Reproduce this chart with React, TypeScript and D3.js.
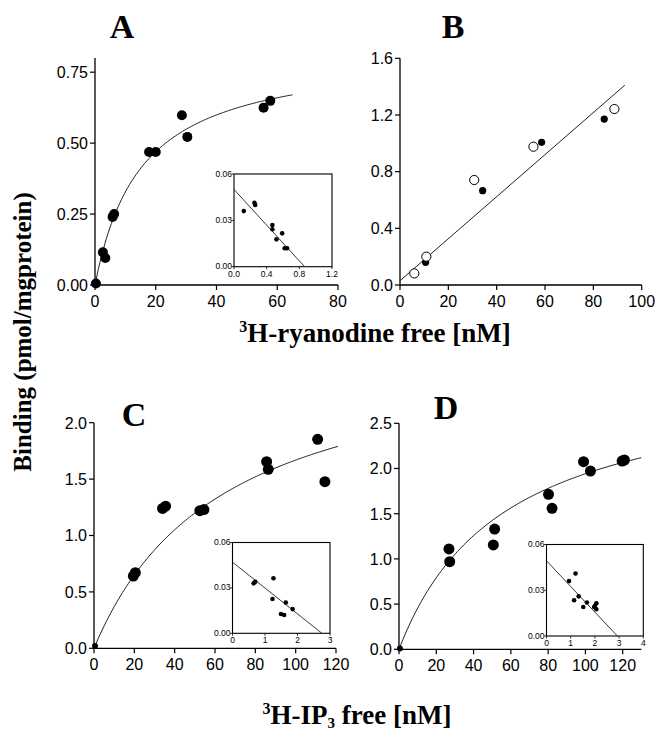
import React from "react";
import * as d3 from "d3";

// ---------- data ----------
// Panel A: 3H-ryanodine saturation (filled)
const A_X = [0.3, 2.6, 3.4, 5.8, 6.3, 17.8, 20.0, 28.6, 30.4, 55.5, 57.7];
const A_Y = [0.005, 0.115, 0.095, 0.24, 0.25, 0.469, 0.469, 0.598, 0.522, 0.625, 0.649];
const A_FIT_BMAX = 0.827;
const A_FIT_KD = 15.2;
const A_FIT_XMAX = 65;
const A_X_TICKS = [0, 20, 40, 60, 80];
const A_Y_TICKS = [0, 0.25, 0.5, 0.75];
const A_INSET_X = [0.12, 0.25, 0.26, 0.47, 0.47, 0.52, 0.59, 0.62, 0.65];
const A_INSET_Y = [0.036, 0.0414, 0.04, 0.027, 0.0242, 0.0177, 0.0216, 0.0119, 0.0119];
const A_INSET_LINE_X = [0, 0.865];
const A_INSET_LINE_Y = [0.05, 0];
const A_INSET_X_TICKS = [0, 0.4, 0.8, 1.2];

// Panel B: filled and open series + straight fit
const B_FILLED_X = [10.6, 34.2, 58.6, 84.5];
const B_FILLED_Y = [0.16, 0.666, 1.007, 1.171];
const B_OPEN_X = [5.9, 10.9, 30.7, 55.2, 88.7];
const B_OPEN_Y = [0.082, 0.2, 0.741, 0.976, 1.242];
const B_LINE_X = [0, 93];
const B_LINE_Y = [0.03, 1.41];
const B_X_TICKS = [0, 20, 40, 60, 80, 100];
const B_Y_TICKS = [0, 0.4, 0.8, 1.2, 1.6];

// Panel C: 3H-IP3
const C_X = [0.5, 19.5, 20.5, 34.0, 35.5, 52.5, 54.5, 85.6, 86.4, 110.9, 114.5];
const C_Y = [0.02, 0.64, 0.67, 1.24, 1.26, 1.22, 1.23, 1.654, 1.587, 1.853, 1.477];
const C_FIT_BMAX = 2.743;
const C_FIT_KD = 64.4;
const C_FIT_XMAX = 121;
const C_X_TICKS = [0, 20, 40, 60, 80, 100, 120];
const C_Y_TICKS = [0, 0.5, 1.0, 1.5, 2.0];
const C_INSET_X = [0.65, 0.7, 1.26, 1.23, 1.64, 1.85, 1.49, 1.59];
const C_INSET_Y = [0.033, 0.034, 0.0364, 0.0227, 0.0203, 0.016, 0.0128, 0.0121];
const C_INSET_LINE_X = [0, 2.75];
const C_INSET_LINE_Y = [0.047, 0];
const C_INSET_X_TICKS = [0, 1, 2, 3];

// Panel D
const D_X = [0.5, 26.8, 27.2, 50.6, 51.3, 80.2, 82.1, 99.0, 102.7, 119.7, 120.9];
const D_Y = [0.01, 1.11, 0.969, 1.154, 1.33, 1.714, 1.56, 2.075, 1.972, 2.083, 2.094];
const D_FIT_BMAX = 3.049;
const D_FIT_KD = 57;
const D_FIT_XMAX = 130;
const D_X_TICKS = [0, 20, 40, 60, 80, 100, 120];
const D_Y_TICKS = [0, 0.5, 1.0, 1.5, 2.0, 2.5];
const D_INSET_X = [0.93, 1.2, 1.33, 1.14, 1.67, 1.52, 2.0, 2.06, 2.06, 1.97];
const D_INSET_Y = [0.036, 0.041, 0.026, 0.0234, 0.022, 0.019, 0.0196, 0.0214, 0.0175, 0.019];
const D_INSET_LINE_X = [0, 2.93];
const D_INSET_LINE_Y = [0.0493, 0];
const D_INSET_X_TICKS = [0, 1, 2, 3, 4];

const INSET_Y_TICKS = [0, 0.03, 0.06];

// ---------- drawing helpers ----------
const SANS = "'Liberation Sans', Arial, sans-serif";
const SERIF = "'Liberation Serif', 'Times New Roman', serif";

type Rect = { l: number; r: number; t: number; b: number };

function hyperbola(bmax: number, kd: number, xmax: number): [number, number][] {
  return d3.range(0, xmax + 0.0001, xmax / 120).map((x) => [x, (bmax * x) / (kd + x)]);
}

function MainAxes({ x, y, xTicks, yTicks, xFmt, yFmt, xEnd, yEnd }: any) {
  const [x0] = x.range();
  const [y0] = y.range();
  return (
    <g>
      <line x1={x0} x2={x(xEnd)} y1={y0} y2={y0} stroke="#000" strokeWidth={1.3} />
      <line x1={x0} x2={x0} y1={y0} y2={y(yEnd)} stroke="#000" strokeWidth={1.3} />
      {xTicks.map((t: number) => (
        <g key={"x" + t}>
          <line x1={x(t)} x2={x(t)} y1={y0} y2={y0 + 5} stroke="#000" strokeWidth={1.2} />
          <text x={x(t)} y={y0 + 21.5} textAnchor="middle" fontFamily={SANS} fontSize={16}>
            {xFmt(t)}
          </text>
        </g>
      ))}
      {yTicks.map((t: number) => (
        <g key={"y" + t}>
          <line x1={x0 - 5} x2={x0} y1={y(t)} y2={y(t)} stroke="#000" strokeWidth={1.2} />
          <text x={x0 - 7} y={y(t) + 5.8} textAnchor="end" fontFamily={SANS} fontSize={16}>
            {yFmt(t)}
          </text>
        </g>
      ))}
    </g>
  );
}

function Inset({ rect, xDomain, xTicks, xFmt, px, py, lx, ly }: any) {
  const x = d3.scaleLinear().domain(xDomain).range([rect.l, rect.r]);
  const y = d3.scaleLinear().domain([0, 0.06]).range([rect.b, rect.t]);
  const fmtY = d3.format(".2f");
  return (
    <g>
      <rect x={rect.l} y={rect.t} width={rect.r - rect.l} height={rect.b - rect.t} fill="none" stroke="#000" strokeWidth={1.1} />
      {INSET_Y_TICKS.map((t) => (
        <g key={"iy" + t}>
          <line x1={rect.l - 2.5} x2={rect.l} y1={y(t)} y2={y(t)} stroke="#000" strokeWidth={0.8} />
          <text x={rect.l - 2} y={y(t) + 2.5} textAnchor="end" fontFamily={SANS} fontSize={8.5}>
            {fmtY(t)}
          </text>
        </g>
      ))}
      {xTicks.map((t: number) => (
        <g key={"ix" + t}>
          <line x1={x(t)} x2={x(t)} y1={rect.b} y2={rect.b + 2.5} stroke="#000" strokeWidth={0.8} />
          <text x={x(t)} y={rect.b + 10} textAnchor="middle" fontFamily={SANS} fontSize={8.5}>
            {xFmt(t)}
          </text>
        </g>
      ))}
      <line x1={x(lx[0])} y1={y(ly[0])} x2={x(lx[1])} y2={y(ly[1])} stroke="#222" strokeWidth={0.9} />
      {px.map((v: number, i: number) => (
        <circle key={i} cx={x(v)} cy={y(py[i])} r={2.3} fill="#000" />
      ))}
    </g>
  );
}

export default function App() {
  // Panel A
  const aR: Rect = { l: 95, r: 338, t: 58, b: 285 };
  const ax = d3.scaleLinear().domain([0, 80]).range([aR.l, aR.r]);
  const ay = d3.scaleLinear().domain([0, 0.8]).range([aR.b, aR.t]);
  // Panel B
  const bR: Rect = { l: 400, r: 641.7, t: 58.3, b: 285 };
  const bx = d3.scaleLinear().domain([0, 100]).range([bR.l, bR.r]);
  const by = d3.scaleLinear().domain([0, 1.6]).range([bR.b, bR.t]);
  // Panel C
  const cR: Rect = { l: 94, r: 336, t: 422.7, b: 648.3 };
  const cx = d3.scaleLinear().domain([0, 120]).range([cR.l, cR.r]);
  const cy = d3.scaleLinear().domain([0, 2.0]).range([cR.b, cR.t]);
  // Panel D
  const dR: Rect = { l: 399, r: 622.7, t: 423.3, b: 649.3 };
  const dx = d3.scaleLinear().domain([0, 120]).range([dR.l, dR.r]);
  const dy = d3.scaleLinear().domain([0, 2.5]).range([dR.b, dR.t]);

  const f2 = d3.format(".2f");
  const f1 = d3.format(".1f");
  const fInt = d3.format("d");

  const lineA = d3.line<[number, number]>().x((d) => ax(d[0])).y((d) => ay(d[1]));
  const lineC = d3.line<[number, number]>().x((d) => cx(d[0])).y((d) => cy(d[1]));
  const lineD = d3.line<[number, number]>().x((d) => dx(d[0])).y((d) => dy(d[1]));

  return (
    <svg width={658} height={733} style={{ position: "absolute", left: 0, top: 0, background: "#fff" }}>
      <rect width={658} height={733} fill="#fff" />

      {/* Panel letters */}
      <text x={122} y={38} textAnchor="middle" fontFamily={SERIF} fontWeight="bold" fontSize={34}>A</text>
      <text x={453} y={38} textAnchor="middle" fontFamily={SERIF} fontWeight="bold" fontSize={34}>B</text>
      <text x={134} y={426} textAnchor="middle" fontFamily={SERIF} fontWeight="bold" fontSize={34}>C</text>
      <text x={446} y={419} textAnchor="middle" fontFamily={SERIF} fontWeight="bold" fontSize={34}>D</text>

      {/* Panel A */}
      <MainAxes x={ax} y={ay} xTicks={A_X_TICKS} yTicks={A_Y_TICKS} xFmt={fInt} yFmt={f2} xEnd={80} yEnd={0.8} />
      <path d={lineA(hyperbola(A_FIT_BMAX, A_FIT_KD, A_FIT_XMAX)) || ""} fill="none" stroke="#222" strokeWidth={1} />
      {A_X.map((v, i) => (
        <circle key={"a" + i} cx={ax(v)} cy={ay(A_Y[i])} r={5} fill="#000" />
      ))}
      <Inset
        rect={{ l: 234, r: 332, t: 174, b: 266.7 }}
        xDomain={[0, 1.2]}
        xTicks={A_INSET_X_TICKS}
        xFmt={f1}
        px={A_INSET_X}
        py={A_INSET_Y}
        lx={A_INSET_LINE_X}
        ly={A_INSET_LINE_Y}
      />

      {/* Panel B */}
      <MainAxes x={bx} y={by} xTicks={B_X_TICKS} yTicks={B_Y_TICKS} xFmt={fInt} yFmt={f1} xEnd={100} yEnd={1.6} />
      <line x1={bx(B_LINE_X[0])} y1={by(B_LINE_Y[0])} x2={bx(B_LINE_X[1])} y2={by(B_LINE_Y[1])} stroke="#222" strokeWidth={1} />
      {B_FILLED_X.map((v, i) => (
        <circle key={"bf" + i} cx={bx(v)} cy={by(B_FILLED_Y[i])} r={3.6} fill="#000" />
      ))}
      {B_OPEN_X.map((v, i) => (
        <circle key={"bo" + i} cx={bx(v)} cy={by(B_OPEN_Y[i])} r={4.6} fill="#fff" stroke="#000" strokeWidth={1} />
      ))}

      {/* Panel C */}
      <MainAxes x={cx} y={cy} xTicks={C_X_TICKS} yTicks={C_Y_TICKS} xFmt={fInt} yFmt={f1} xEnd={120} yEnd={2.0} />
      <path d={lineC(hyperbola(C_FIT_BMAX, C_FIT_KD, C_FIT_XMAX)) || ""} fill="none" stroke="#222" strokeWidth={1} />
      {C_X.map((v, i) => (
        <circle key={"c" + i} cx={cx(v)} cy={cy(C_Y[i])} r={i === 0 ? 3 : 5.5} fill="#000" />
      ))}
      <Inset
        rect={{ l: 232.5, r: 330, t: 542.5, b: 633.3 }}
        xDomain={[0, 3]}
        xTicks={C_INSET_X_TICKS}
        xFmt={fInt}
        px={C_INSET_X}
        py={C_INSET_Y}
        lx={C_INSET_LINE_X}
        ly={C_INSET_LINE_Y}
      />

      {/* Panel D */}
      <MainAxes x={dx} y={dy} xTicks={D_X_TICKS} yTicks={D_Y_TICKS} xFmt={fInt} yFmt={f1} xEnd={130} yEnd={2.5} />
      <path d={lineD(hyperbola(D_FIT_BMAX, D_FIT_KD, D_FIT_XMAX)) || ""} fill="none" stroke="#222" strokeWidth={1} />
      {D_X.map((v, i) => (
        <circle key={"d" + i} cx={dx(v)} cy={dy(D_Y[i])} r={i === 0 ? 3 : 5.5} fill="#000" />
      ))}
      <Inset
        rect={{ l: 546.5, r: 643.3, t: 544.5, b: 636 }}
        xDomain={[0, 4]}
        xTicks={D_INSET_X_TICKS}
        xFmt={fInt}
        px={D_INSET_X}
        py={D_INSET_Y}
        lx={D_INSET_LINE_X}
        ly={D_INSET_LINE_Y}
      />

      {/* Axis titles */}
      <text x={375} y={342} textAnchor="middle" fontFamily={SERIF} fontWeight="bold" fontSize={27}>
        <tspan fontSize={16} dy={-10}>3</tspan>
        <tspan dy={10}>H-ryanodine free [nM]</tspan>
      </text>
      <text x={357} y={724} textAnchor="middle" fontFamily={SERIF} fontWeight="bold" fontSize={27}>
        <tspan fontSize={16} dy={-10}>3</tspan>
        <tspan dy={10}>H-IP</tspan>
        <tspan fontSize={15} dy={4}>3</tspan>
        <tspan dy={-4}> free [nM]</tspan>
      </text>
      <text
        transform="translate(31,332) rotate(-90)"
        textAnchor="middle"
        fontFamily={SERIF}
        fontWeight="bold"
        fontSize={25}
      >
        Binding (pmol/mgprotein)
      </text>
    </svg>
  );
}
